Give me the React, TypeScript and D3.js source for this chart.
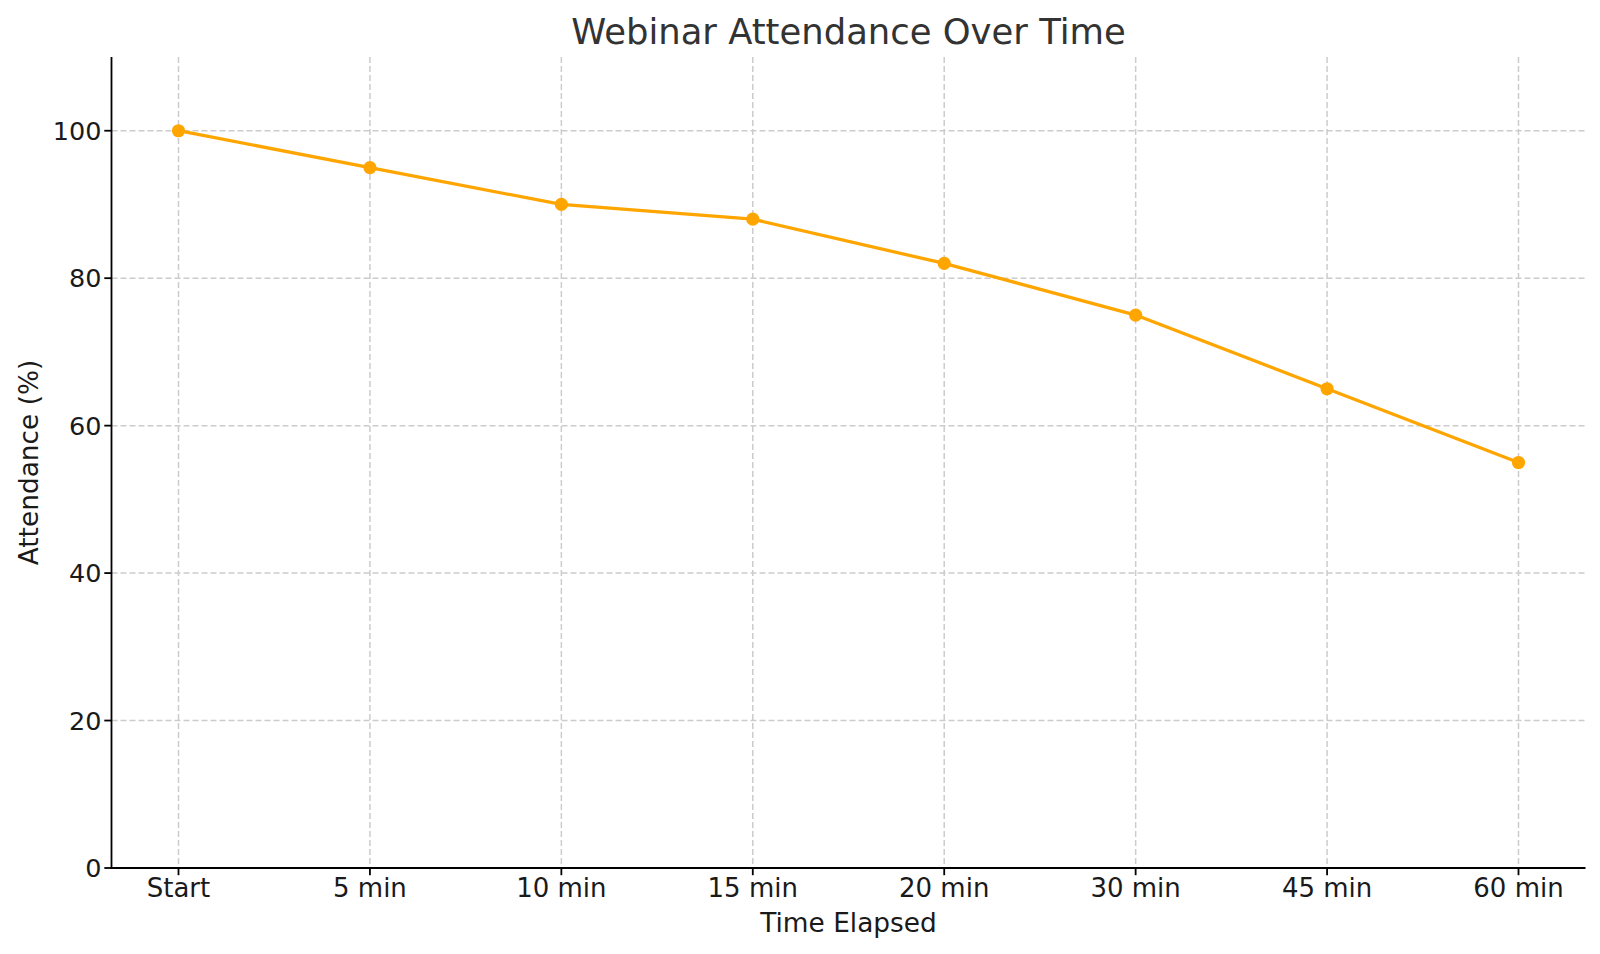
import React from "react";
import * as d3 from "d3";

const categories = ["Start", "5 min", "10 min", "15 min", "20 min", "30 min", "45 min", "60 min"];
const attendance = [100, 95, 90, 88, 82, 75, 65, 55];
const yTicks = [0, 20, 40, 60, 80, 100];

const W = 1600;
const H = 954;
const left = 111.5;
const right = 1585.5;
const top = 57;
const bottom = 868;
const font = "DejaVu Sans, sans-serif";

export default function App() {
  const x = d3.scaleLinear().domain([-0.35, categories.length - 1 + 0.35]).range([left, right]);
  const y = d3.scaleLinear().domain([0, 110]).range([bottom, top]);
  const line = d3
    .line<number>()
    .x((_, i) => x(i))
    .y((d) => y(d));

  return (
    <svg
      width={W}
      height={H}
      style={{ position: "absolute", left: 0, top: 0, background: "#fff" }}
      fontFamily={font}
    >
      <rect width={W} height={H} fill="#fff" />
      {/* grid */}
      {categories.map((c, i) => (
        <line
          key={"gx" + c}
          x1={x(i)}
          x2={x(i)}
          y1={top}
          y2={bottom}
          stroke="#cccccc"
          strokeWidth={1.5}
          strokeDasharray="6,3"
        />
      ))}
      {yTicks.map((t) => (
        <line
          key={"gy" + t}
          x1={left}
          x2={right}
          y1={y(t)}
          y2={y(t)}
          stroke="#cccccc"
          strokeWidth={1.5}
          strokeDasharray="6,3"
        />
      ))}
      {/* line and markers */}
      <path d={line(attendance) || ""} fill="none" stroke="#FFA500" strokeWidth={3.3} strokeLinejoin="round" />
      {attendance.map((v, i) => (
        <circle key={"p" + i} cx={x(i)} cy={y(v)} r={6.6} fill="#FFA500" />
      ))}
      {/* spines */}
      <line x1={left} x2={left} y1={top} y2={bottom + 0.9} stroke="#000" strokeWidth={1.8} />
      <line x1={left - 0.9} x2={right} y1={bottom} y2={bottom} stroke="#000" strokeWidth={1.8} />
      {/* x ticks */}
      {categories.map((c, i) => (
        <g key={"xt" + c}>
          <line x1={x(i)} x2={x(i)} y1={bottom} y2={bottom + 7.2} stroke="#000" strokeWidth={1.8} />
          <text x={x(i)} y={897} textAnchor="middle" fontSize={26} fill="#1a1a1a">
            {c}
          </text>
        </g>
      ))}
      {/* y ticks */}
      {yTicks.map((t) => (
        <g key={"yt" + t}>
          <line x1={left - 7.2} x2={left} y1={y(t)} y2={y(t)} stroke="#000" strokeWidth={1.8} />
          <text x={101.5} y={y(t) + 9.3} textAnchor="end" fontSize={25.5} fill="#1a1a1a">
            {t}
          </text>
        </g>
      ))}
      {/* labels */}
      <text x={(left + right) / 2} y={931.5} textAnchor="middle" fontSize={26.4} fill="#1a1a1a">
        Time Elapsed
      </text>
      <text
        transform={`translate(38, ${(top + bottom) / 2}) rotate(-90)`}
        textAnchor="middle"
        fontSize={26.4}
        fill="#1a1a1a"
      >
        Attendance (%)
      </text>
      <text x={(left + right) / 2} y={43.5} textAnchor="middle" fontSize={35.4} fill="#333333">
        Webinar Attendance Over Time
      </text>
    </svg>
  );
}
